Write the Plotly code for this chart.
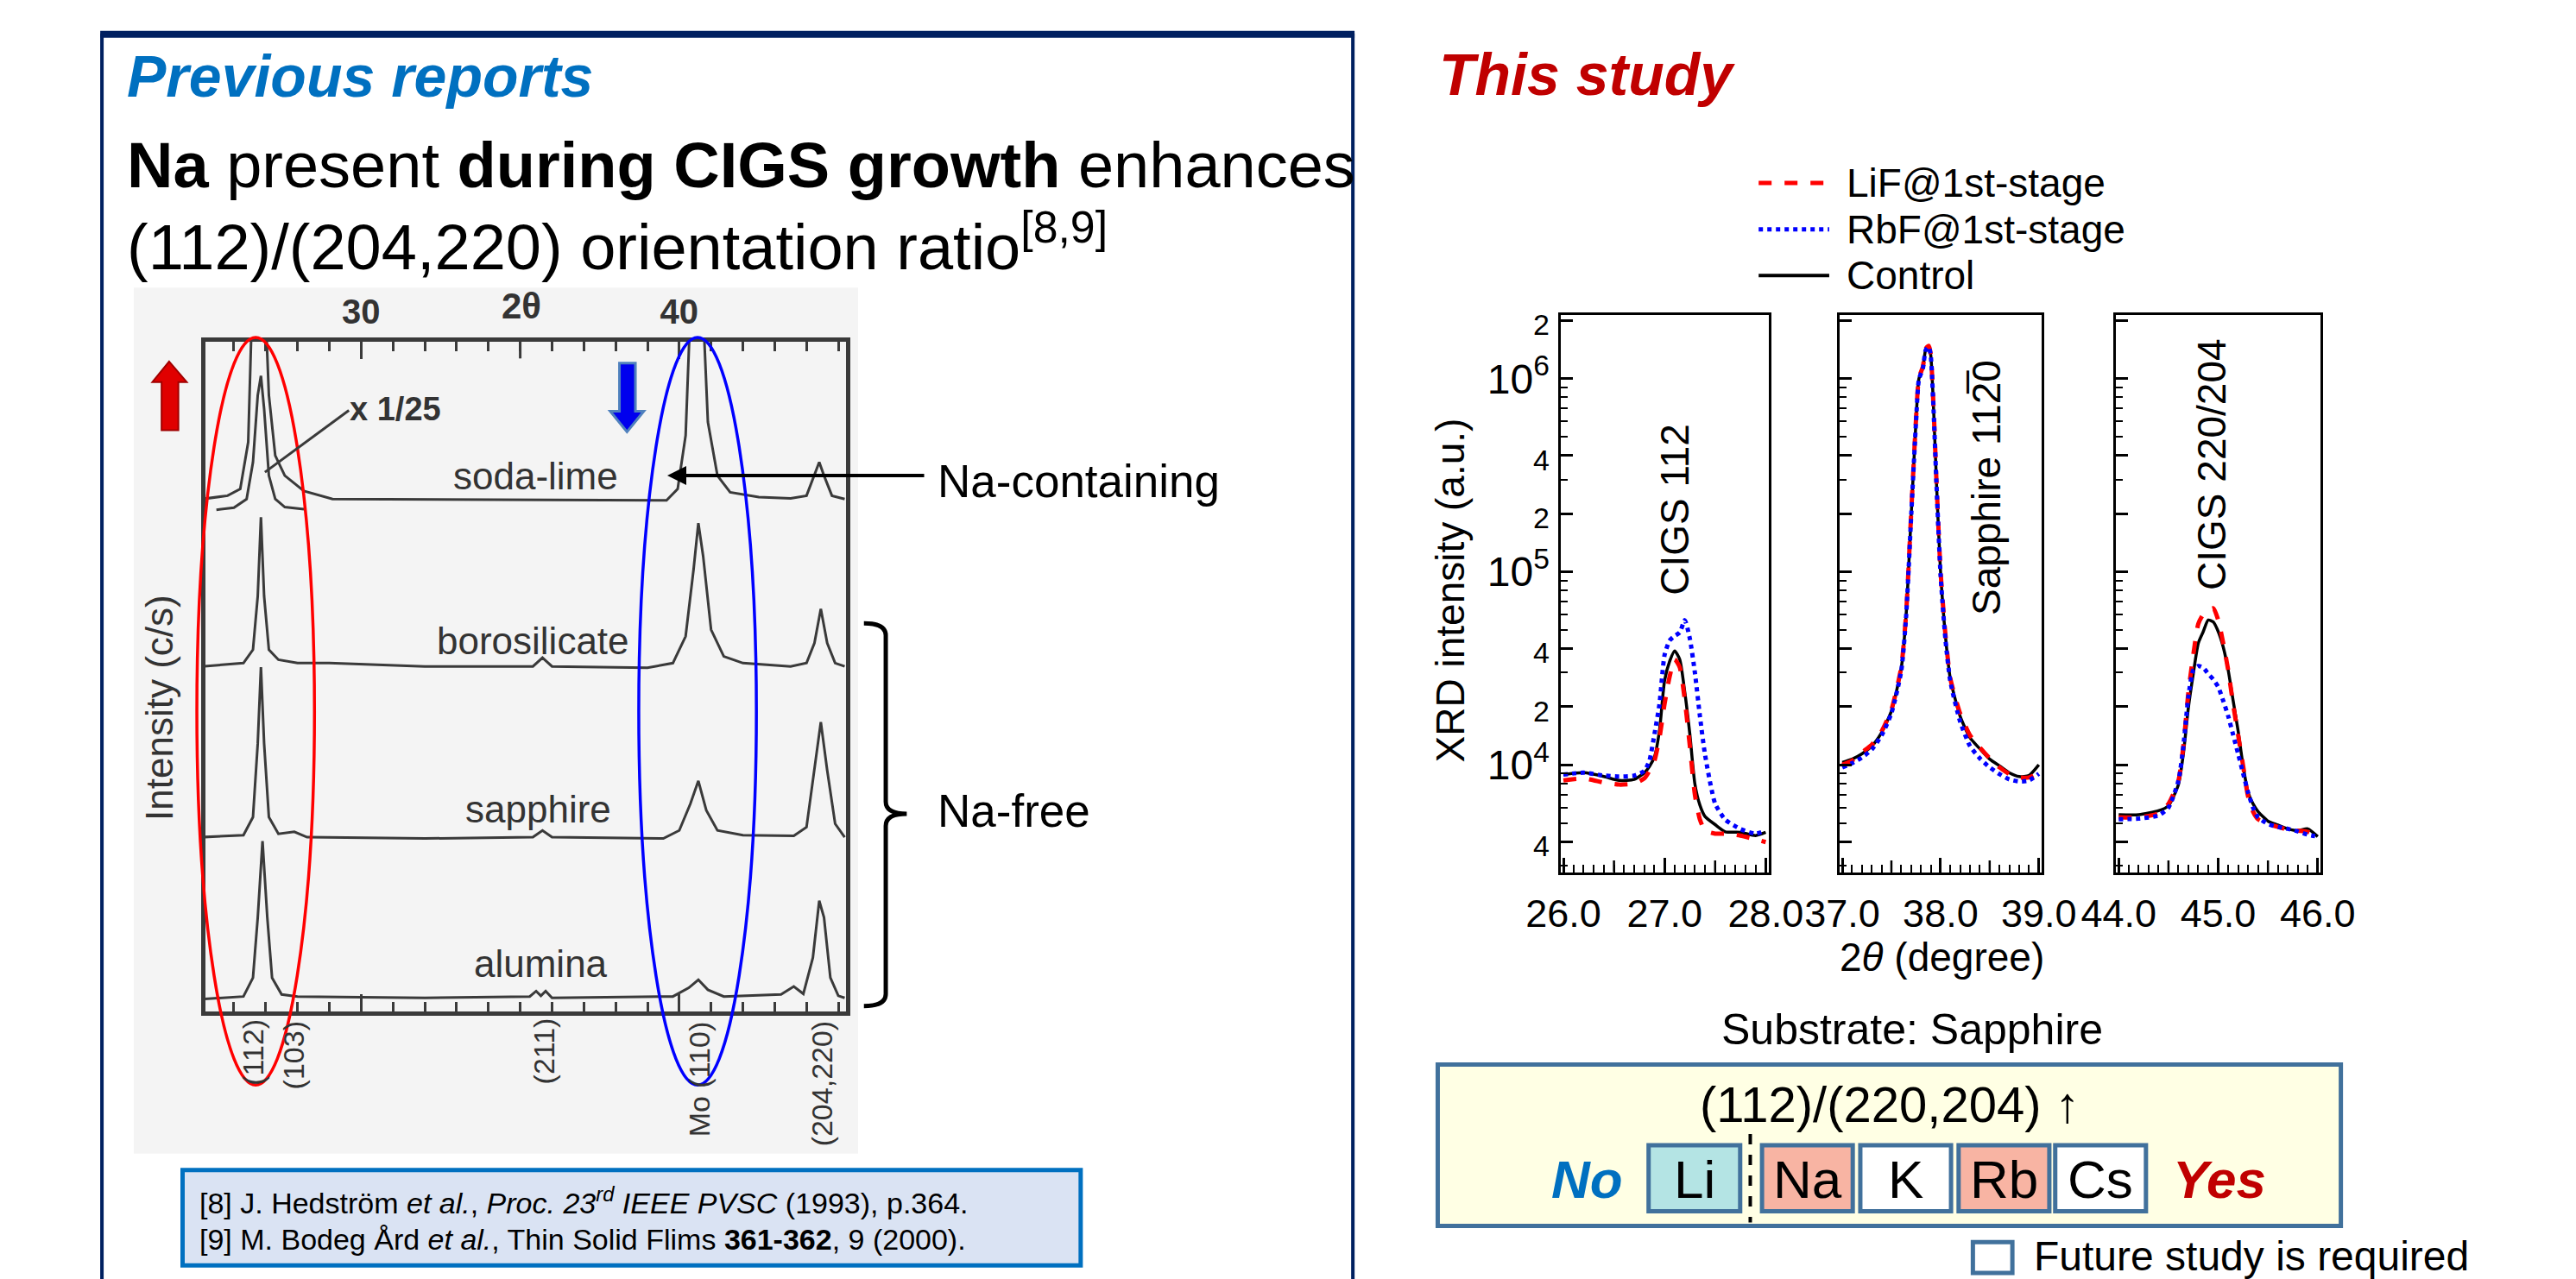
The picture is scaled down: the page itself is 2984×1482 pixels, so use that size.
import plotly.graph_objects as go

W, H = 2984, 1482
FONT = "Arial, 'Liberation Sans', sans-serif"


def px(x):
    return x / W


def py(y):
    return 1 - y / H


# ---------------- "This study" XRD data (log intensity, a.u.) ----------------
tt_112 = [26.0, 26.2, 26.4, 26.55, 26.7, 26.8, 26.85, 26.9, 26.95, 27.0, 27.05, 27.1,
          27.15, 27.2, 27.25, 27.3, 27.35, 27.4, 27.5, 27.6, 27.75, 27.9, 28.0]
ctrl_112 = [8900, 9100, 8700, 8300, 8400, 9100, 9800, 11000, 15100, 27300, 34300, 38900,
            35100, 23800, 14400, 7950, 6170, 5400, 4900, 4500, 4470, 4300, 4470]
lif_112 = [8300, 8500, 8100, 7900, 8000, 8500, 9300, 10500, 13800, 20700, 28600, 35100,
           32000, 21700, 12500, 7000, 5200, 4570, 4400, 4400, 4300, 4110, 3980]
rbf_112 = [8900, 9100, 8800, 8700, 8800, 9300, 10500, 14400, 20700, 37000, 44000, 46500,
           48500, 56100, 45000, 30000, 17800, 11300, 6300, 5200, 4650, 4400, 4570]

tt_sap = [37.0, 37.1, 37.2, 37.3, 37.4, 37.5, 37.6, 37.65, 37.7, 37.75, 37.78, 37.82, 37.85,
          37.88, 37.9, 37.93, 37.96, 38.0, 38.05, 38.1, 38.2, 38.3, 38.4, 38.5, 38.6, 38.7,
          38.8, 38.9, 39.0]
ctrl_sap = [10300, 10700, 11400, 12500, 14700, 19000, 31600, 60000, 190000, 600000, 1000000,
            1140000, 1420000, 1470000, 1330000, 681000, 278000, 100000, 46400, 27800, 17800,
            13800, 12100, 10700, 9870, 9080, 8690, 8800, 10000]
lif_sap = [10000, 10500, 11600, 12700, 14900, 19300, 32000, 61000, 195000, 610000, 1010000,
           1150000, 1430000, 1480000, 1340000, 690000, 282000, 101000, 47000, 28000, 18400,
           14200, 12300, 10800, 9700, 8950, 8600, 8600, 9100]
rbf_sap = [9700, 10200, 10900, 12000, 14200, 18500, 30600, 59000, 188000, 590000, 990000,
           1130000, 1410000, 1460000, 1320000, 670000, 272000, 97000, 44500, 27000, 16700,
           12500, 10800, 9700, 8950, 8400, 8200, 8300, 9000]

tt_220 = [44.0, 44.2, 44.4, 44.5, 44.6, 44.65, 44.7, 44.75, 44.8, 44.85, 44.9, 44.95, 45.0,
          45.05, 45.1, 45.15, 45.2, 45.25, 45.3, 45.35, 45.4, 45.5, 45.6, 45.7, 45.8, 45.9, 46.0]
ctrl_220 = [5520, 5520, 5780, 6140, 7890, 11400, 19700, 29700, 42700, 49000, 56200, 55000,
            49000, 40800, 31000, 21500, 15000, 9900, 7200, 6280, 5730, 5110, 4880, 4660, 4560,
            4660, 4250]
lif_220 = [5350, 5350, 5600, 6280, 8260, 12500, 23600, 37200, 53700, 60200, 63100, 64600,
           56200, 42800, 31000, 20600, 14300, 9900, 6870, 5730, 5230, 4940, 4770, 4610, 4560,
           4500, 4250]
rbf_220 = [5230, 5260, 5470, 6000, 8260, 12500, 22500, 31000, 32500, 31800, 29600, 27700,
           25300, 21500, 17900, 14300, 11400, 9040, 7200, 6000, 5350, 4940, 4770, 4660, 4520,
           4350, 4250]

series_names = ["LiF@1st-stage", "RbF@1st-stage", "Control"]
peak_labels = ["CIGS 112", "Sapphire 112\u03050", "CIGS 220/204"]

y_tickvals = [4e3, 1e4, 2e4, 4e4, 1e5, 2e5, 4e5, 1e6, 2e6]
y_ticktext = ["<span style='font-size:34px'>4</span>", "10<sup>4</sup>",
              "<span style='font-size:34px'>2</span>", "<span style='font-size:34px'>4</span>",
              "10<sup>5</sup>", "<span style='font-size:34px'>2</span>",
              "<span style='font-size:34px'>4</span>", "10<sup>6</sup>",
              "<span style='font-size:34px'>2</span>"]
y_minor = [3e3, 5e3, 6e3, 7e3, 8e3, 9e3, 3e4, 5e4, 6e4, 7e4, 8e4, 9e4,
           3e5, 5e5, 6e5, 7e5, 8e5, 9e5]

# ---------------- "Previous reports" (scanned figure) data, stacked c/s ----------------
prev_soda_x = [25.0, 25.8, 26.2, 26.45, 26.6, 26.75, 26.95, 27.1, 27.3, 27.6, 28.2, 29.1,
               39.6, 39.95, 40.2, 40.4, 40.55, 40.7, 40.9, 41.2, 41.6, 42.5, 43.5, 44.0,
               44.25, 44.4, 44.55, 44.8, 45.2]
prev_soda_y = [76.5, 77.0, 78.0, 85.0, 110, 130, 110, 92, 83, 80, 77.7, 76.5,
               76.3, 78, 86, 110, 130, 110, 88, 80, 77.5, 76.8, 76.6, 77,
               80, 82, 80, 77, 76.5]
prev_x25_x = [25.45, 26.0, 26.4, 26.6, 26.75, 26.85, 26.95, 27.1, 27.3, 27.6, 28.2]
prev_x25_y = [74.9, 75.2, 76.5, 82, 92, 94.9, 90, 80, 76.5, 75.3, 75.0]
prev_boro_x = [25.0, 26.3, 26.6, 26.75, 26.85, 26.95, 27.1, 27.4, 28.0, 29.0, 32.0, 35.4,
               35.7, 36.0, 39.0, 39.8, 40.2, 40.45, 40.6, 40.75, 41.0, 41.4, 42.0, 43.5,
               44.0, 44.25, 44.45, 44.65, 44.9, 45.2]
prev_boro_y = [51.5, 52, 54, 62, 73.8, 62, 54, 52.5, 52, 52, 51.5, 51.5,
               52.8, 51.5, 51.3, 52, 56, 66, 72.9, 68, 57, 53, 52, 51.5,
               52, 55, 60.1, 55, 52, 51.5]
prev_sapph_x = [25.0, 26.3, 26.6, 26.75, 26.85, 26.95, 27.1, 27.4, 27.9, 28.3, 32.0, 35.4,
                35.7, 36.0, 39.5, 40.0, 40.35, 40.6, 40.85, 41.2, 42.0, 43.6, 44.0, 44.25,
                44.45, 44.65, 44.9, 45.2]
prev_sapph_y = [26.0, 26.3, 29, 40, 51.4, 40, 29, 26.5, 26.8, 26.0, 25.8, 26.0,
                27.0, 26.0, 25.8, 27, 31, 34.4, 30, 27, 26.3, 26.2, 27.5, 36,
                43.2, 36, 28, 26]
prev_alum_x = [25.0, 26.3, 26.6, 26.75, 26.9, 27.05, 27.2, 27.5, 28.0, 32.0, 35.3, 35.5,
               35.65, 35.8, 36.0, 39.8, 40.3, 40.6, 40.9, 41.4, 43.2, 43.6, 43.9, 44.2,
               44.4, 44.55, 44.75, 45.0, 45.2]
prev_alum_y = [1.8, 2.2, 5, 14, 25.4, 14, 5, 2.5, 2.2, 2.0, 2.2, 3.0,
               2.3, 3.0, 2.0, 2.2, 3.5, 4.7, 3.2, 2.2, 2.5, 3.7, 2.6, 8,
               16.5, 14, 5, 2.3, 2.0]
prev_substrates = ["soda-lime", "borosilicate", "sapphire", "alumina"]
prev_peaks = ["(112)", "(103)", "(211)", "Mo (110)", "(204,220)"]
elements = ["Li", "Na", "K", "Rb", "Cs"]

fig = go.Figure()

# ---- XRD traces ----
panels = [("x", "y", tt_112, ctrl_112, lif_112, rbf_112),
          ("x2", "y2", tt_sap, ctrl_sap, lif_sap, rbf_sap),
          ("x3", "y3", tt_220, ctrl_220, lif_220, rbf_220)]
for xa, ya, tt, c, l, r in panels:
    fig.add_trace(go.Scatter(x=tt, y=c, xaxis=xa, yaxis=ya, mode="lines", name=series_names[2],
                             line=dict(color="black", width=3.5, shape="spline", smoothing=0.6),
                             showlegend=False))
    fig.add_trace(go.Scatter(x=tt, y=l, xaxis=xa, yaxis=ya, mode="lines", name=series_names[0],
                             line=dict(color="#FF0000", width=5, dash="dash", shape="spline",
                                       smoothing=0.6), showlegend=False))
    fig.add_trace(go.Scatter(x=tt, y=r, xaxis=xa, yaxis=ya, mode="lines", name=series_names[1],
                             line=dict(color="#0000FF", width=5, dash="dot", shape="spline",
                                       smoothing=0.6), showlegend=False))

# ---- scanned figure traces ----
for xs, ys in [(prev_soda_x, prev_soda_y), (prev_x25_x, prev_x25_y), (prev_boro_x, prev_boro_y),
               (prev_sapph_x, prev_sapph_y), (prev_alum_x, prev_alum_y)]:
    fig.add_trace(go.Scatter(x=xs, y=ys, xaxis="x4", yaxis="y4", mode="lines",
                             line=dict(color="#3a3a3a", width=3), showlegend=False,
                             hoverinfo="skip"))

frame = dict(showline=True, linecolor="black", linewidth=3, mirror=True, ticks="inside",
             tickcolor="black", tickwidth=2.5, showgrid=False, zeroline=False)


def xdef(dom, lo, hi, anchor):
    d = dict(frame)
    d.update(domain=[px(dom[0]), px(dom[1])], range=[lo - 0.03, hi + 0.03], anchor=anchor,
             tickmode="array", tickvals=[lo, lo + 1, hi],
             ticktext=[f"{lo:.1f}", f"{lo + 1:.1f}", f"{hi:.1f}"], ticklen=17,
             tickfont=dict(size=45, family=FONT, color="black"), ticklabelstandoff=6,
             minor=dict(tickmode="linear", tick0=lo, dtick=0.1, ticklen=9, tickwidth=2,
                        ticks="inside", tickcolor="black"))
    return d


def ydef(anchor, labels):
    d = dict(frame)
    d.update(domain=[py(1000), py(351)], type="log", range=[3.444, 6.329], anchor=anchor,
             tickmode="array", tickvals=y_tickvals, ticktext=y_ticktext, ticklen=14,
             showticklabels=labels, tickfont=dict(size=48, family=FONT, color="black"),
             minor=dict(tickmode="array", tickvals=y_minor, ticklen=8, tickwidth=2,
                        ticks="inside", tickcolor="black"))
    return d


gray = "#3a3a3a"
fig.update_layout(
    width=W, height=H, margin=dict(l=0, r=0, t=0, b=0), autosize=False,
    paper_bgcolor="white", plot_bgcolor="rgba(0,0,0,0)",
    font=dict(family=FONT, color="black"),
    xaxis=xdef((1808, 2056), 26.0, 28.0, "y"),
    xaxis2=xdef((2140, 2381), 37.0, 39.0, "y2"),
    xaxis3=xdef((2469, 2713), 44.0, 46.0, "y3"),
    yaxis=ydef("x", True),
    yaxis2=ydef("x2", False),
    yaxis3=ydef("x3", False),
    xaxis4=dict(domain=[px(195), px(958)], range=[25.1, 45.25], anchor="y4", side="top",
                showline=True, mirror="ticks", linecolor=gray, linewidth=5, ticks="inside",
                tickmode="array", tickvals=[30, 40],
                ticktext=["<b>30</b>", "<b>40</b>"], ticklen=20, tickwidth=3,
                tickcolor=gray, tickfont=dict(size=40, color="#333", family=FONT),
                minor=dict(tickmode="linear", tick0=25, dtick=1, ticklen=11, tickwidth=3,
                           ticks="inside", tickcolor=gray),
                showgrid=False, zeroline=False),
    yaxis4=dict(domain=[py(1162), py(382)], range=[0, 100], anchor="x4", showline=True,
                mirror=True, linecolor=gray, linewidth=5, showticklabels=False, ticks="",
                showgrid=False, zeroline=False),
)

shapes = []


def rect(x0, y0, x1, y1, line_color=None, width=0, fill=None, layer="above", dash=None):
    s = dict(type="rect", xref="paper", yref="paper", x0=px(x0), x1=px(x1), y0=py(y0),
             y1=py(y1), layer=layer,
             line=dict(color=line_color or "rgba(0,0,0,0)", width=width))
    if dash:
        s["line"]["dash"] = dash
    if fill:
        s["fillcolor"] = fill
    return s


def line(x0, y0, x1, y1, color, width, dash=None):
    d = dict(color=color, width=width)
    if dash:
        d["dash"] = dash
    return dict(type="line", xref="paper", yref="paper", x0=px(x0), x1=px(x1), y0=py(y0),
                y1=py(y1), line=d)


def path(cmds, color, width, fill=None, layer="above"):
    parts = []
    for c in cmds:
        op = c[0]
        nums = c[1:]
        coords = []
        for i in range(0, len(nums), 2):
            coords.append(f"{px(nums[i]):.6f},{py(nums[i + 1]):.6f}")
        parts.append(op + " " + " ".join(coords))
    s = dict(type="path", xref="paper", yref="paper", path=" ".join(parts), layer=layer,
             line=dict(color=color, width=width))
    if fill:
        s["fillcolor"] = fill
    return s


# half-degree ticks (medium length) on the XRD x axes, drawn in axis coordinates
for xa, ya, lo in [("x", "y", 26.0), ("x2", "y2", 37.0), ("x3", "y3", 44.0)]:
    for v in (lo + 0.5, lo + 1.5):
        shapes.append(dict(type="line", xref=xa, yref=f"{ya} domain", x0=v, x1=v, y0=0,
                           y1=0.021, line=dict(color="black", width=2.5)))

# left panel frame
shapes.append(path([("M", 72, 1500), ("L", 72, 25), ("L", 1561, 25), ("L", 1561, 1500)],
                   "#002060", 4))
shapes.append(line(70, 24, 1563, 24, "#002060", 8))
# scanned figure background
shapes.append(rect(110, 319, 972, 1328, fill="#F4F4F4", layer="below"))
# major ticks at 35 (no label)
shapes.append(dict(type="line", xref="x4", yref="y4 domain", x0=35, x1=35, y0=1, y1=0.975,
                   line=dict(color=gray, width=3)))
# highlight ellipses
shapes.append(dict(type="circle", xref="paper", yref="paper", x0=px(185), x1=px(325),
                   y0=py(377), y1=py(1248), line=dict(color="#FF0000", width=3.5)))
shapes.append(dict(type="circle", xref="paper", yref="paper", x0=px(711), x1=px(851),
                   y0=py(377), y1=py(1248), line=dict(color="#0000FF", width=3.5)))
# block arrows
shapes.append(path([("M", 152, 405), ("L", 173, 429), ("L", 163, 429), ("L", 163, 485),
                    ("L", 143, 485), ("L", 143, 429), ("L", 132, 429), ("Z",)],
                   "#A00000", 2, fill="#E00000"))
shapes.append(path([("M", 688, 407), ("L", 707, 407), ("L", 707, 463), ("L", 717, 463),
                    ("L", 697, 487), ("L", 677, 463), ("L", 688, 463), ("Z",)],
                   "#4F81BD", 3, fill="#0000EE"))
# x 1/25 pointer
shapes.append(line(366, 462, 266, 534, gray, 3))
# Na-free bracket
shapes.append(path([("M", 979, 710), ("Q", 1005, 710, 1005, 724), ("L", 1005, 918),
                    ("Q", 1005, 932, 1030, 932), ("Q", 1005, 932, 1005, 946),
                    ("L", 1005, 1142), ("Q", 1005, 1156, 979, 1156)], "black", 5))
# reference box
shapes.append(rect(168, 1347, 1237, 1458, "#0070C0", 5, fill="#DAE3F3"))
# legend samples
shapes.append(line(2044, 197, 2128, 197, "#FF0000", 5, "dash"))
shapes.append(line(2044, 251, 2128, 251, "#0000FF", 5, "dot"))
shapes.append(line(2044, 305, 2128, 305, "black", 4))
# summary box
shapes.append(rect(1662, 1224, 2737, 1412, "#41719C", 5, fill="#FFFFE4"))
el_boxes = [(1913, 2022, "#B4E4E4"), (2048, 2156, "#F8B4A3"), (2165, 2273, "white"),
            (2282, 2390, "#F8B4A3"), (2397, 2505, "white")]
for x0, x1, fc in el_boxes:
    shapes.append(rect(x0, 1318, x1, 1395, "#41719C", 5, fill=fc))
shapes.append(line(2034, 1305, 2034, 1408, "black", 4, "dash"))
shapes.append(rect(2299, 1431, 2346, 1467, "#41719C", 5, fill="white"))

ann = []


def txt(x, y, s, size, color="black", xanchor="left", yanchor="middle", angle=0):
    ann.append(dict(x=px(x), y=py(y), xref="paper", yref="paper", text=s, showarrow=False,
                    font=dict(size=size, color=color, family=FONT), xanchor=xanchor,
                    yanchor=yanchor, textangle=angle))


txt(100, 72, "<b><i>Previous reports</i></b>", 68, "#0070C0")
txt(1662, 70, "<b><i>This study</i></b>", 68, "#C00000")
txt(100, 176, "<b>Na</b> present <b>during CIGS growth</b> enhances", 74)
txt(100, 266, "(112)/(204,220) orientation ratio<sup>[8,9]</sup>", 74)

# scanned figure texts
txt(571, 340, "<b>2θ</b>", 42, "#333", "center")
txt(421, 460, "<b>x 1/25</b>", 38, "#333", "center")
for name, (xc, yc) in zip(prev_substrates, [(588, 538), (585, 730), (591, 926), (594, 1106)]):
    txt(xc, yc, name, 44, "#333", "center")
txt(140, 808, "Intensity (c/s)", 44, "#333", "center", angle=-90)
for name, (xc, yc) in zip(prev_peaks, [(252, 1210), (301, 1213), (599, 1208), (783, 1241),
                                       (929, 1246)]):
    txt(xc, yc, name, 34, "#333", "center", angle=-90)
ann.append(dict(x=px(745), y=py(538), ax=299, ay=0, xref="paper", yref="paper",
                axref="pixel", ayref="pixel", text="", showarrow=True, arrowhead=2,
                arrowsize=1.1, arrowwidth=4, arrowcolor="black"))
txt(1065, 544, "Na-containing", 53)
txt(1065, 929, "Na-free", 53)
txt(186, 1383, "[8] J. Hedström <i>et al.</i>, <i>Proc. 23<sup>rd</sup> IEEE PVSC</i> (1993), p.364.", 34)
txt(186, 1428, "[9] M. Bodeg Ård <i>et al.</i>, Thin Solid Flims <b>361-362</b>, 9 (2000).", 34)

# XRD texts
txt(1677, 672, "XRD intensity (a.u.)", 46, "black", "center", angle=-90)
txt(2262, 1099, "2<i>θ</i> (degree)", 46, "black", "center")
for lab, (xc, yc) in zip(peak_labels, [(1944, 577), (2315, 552), (2583, 525)]):
    txt(xc, yc, lab, 46, "black", "center", angle=-90)
for name, yc in zip(series_names, [197, 251, 305]):
    txt(2147, yc, name, 46)

# summary texts
txt(2227, 1183, "Substrate: Sapphire", 50, "black", "center")
txt(2200, 1270, "(112)/(220,204) ↑", 58, "black", "center")
txt(1840, 1358, "<b><i>No</i></b>", 62, "#0070C0", "center")
for el, (x0, x1, _) in zip(elements, el_boxes):
    txt((x0 + x1) / 2, 1358, el, 62, "black", "center")
txt(2593, 1358, "<b><i>Yes</i></b>", 62, "#C00000", "center")
txt(2370, 1447, "Future study is required", 48)

fig.update_layout(shapes=shapes, annotations=ann)
fig.write_html("out.html")
